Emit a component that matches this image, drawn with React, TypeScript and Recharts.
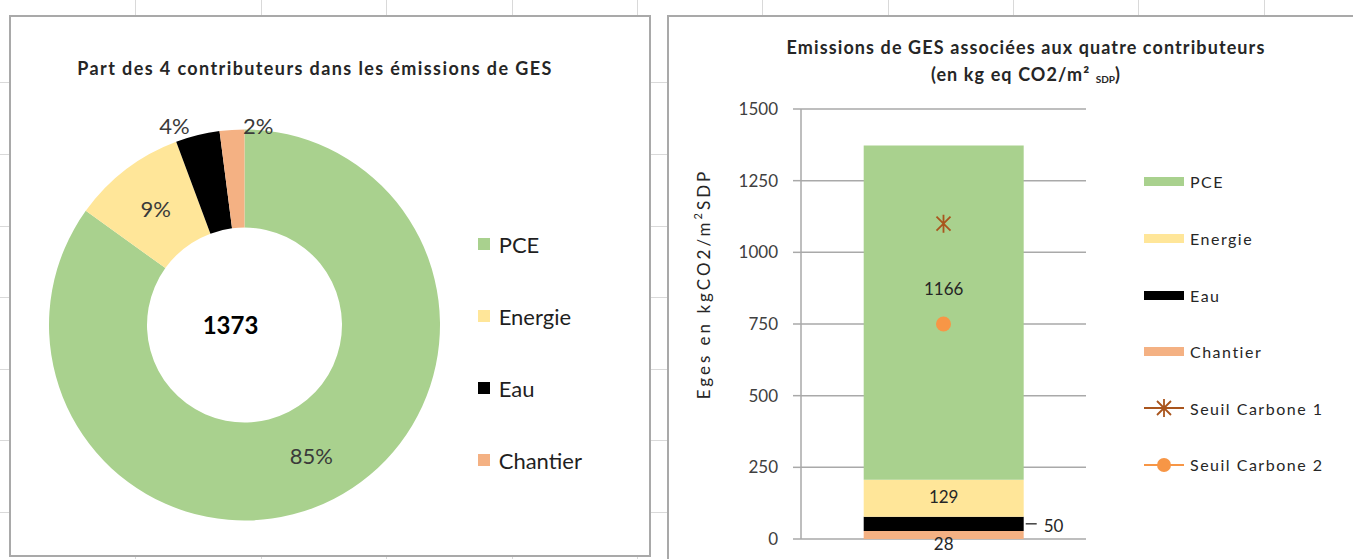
import React from 'react';
import {
  PieChart, Pie, Cell, ComposedChart, Bar, Line, XAxis, YAxis, CartesianGrid, LabelList,
} from 'recharts';

const categories = ['PCE', 'Energie', 'Eau', 'Chantier'];
const emissions = [1166, 129, 50, 28];
const categoryColors = ['#a9d18e', '#ffe699', '#000000', '#f4b183'];
const thresholdNames = ['Seuil Carbone 1', 'Seuil Carbone 2'];
const thresholdValues = [1100, 750];
const thresholdColors = ['#a9551d', '#f79646'];
const yTicks = [0, 250, 500, 750, 1000, 1250, 1500];

const FONT = 'Lato, "Open Sans", sans-serif';
const BORDER = '#a9a9a9';
const RAD = Math.PI / 180;
const PIE_CX = 233.5;
const PIE_CY = 308;

const total = emissions.reduce((a, b) => a + b, 0);
const pieData = categories.map((name, i) => ({ name, value: emissions[i] }));
const barRow: Record<string, string | number> = { name: 'Projet' };
categories.forEach((c, i) => { barRow[c] = emissions[i]; });
thresholdNames.forEach((n, i) => { barRow[n] = thresholdValues[i]; });
const barData = [barRow];
// stacked from bottom to top
const stackOrder = categories.map((c, i) => ({ c, color: categoryColors[i] })).reverse();

const renderPieLabel = (p: any) => {
  const { cx, cy, midAngle, innerRadius, outerRadius, percent, index } = p;
  const txt = `${Math.round(percent * 100)}%`;
  const style = { fontFamily: FONT, fontSize: 22, fill: '#3a3a3a' };
  if (percent >= 0.05) {
    const r = (innerRadius + outerRadius) / 2;
    return (
      <text x={cx + r * Math.cos(-midAngle * RAD)} y={cy + r * Math.sin(-midAngle * RAD)}
        textAnchor="middle" dominantBaseline="central" style={style}>{txt}</text>
    );
  }
  // small slices: labels just above the ring
  const last = index === pieData.length - 1;
  const x = cx + outerRadius * Math.cos(-midAngle * RAD) + (last ? 11 : -8);
  return (
    <text x={x} y={cy - outerRadius + 4} textAnchor={last ? 'start' : 'end'} style={style}>{txt}</text>
  );
};

const segmentLabel = (cat: string) => (p: any) => {
  const { x, y, width, height, value } = p;
  const cxm = x + width / 2;
  const cym = y + height / 2;
  const style = { fontFamily: FONT, fontSize: 17, fill: '#262626' };
  if (cat === 'Eau') {
    return (
      <g>
        <line x1={x + width + 2} x2={x + width + 13} y1={cym} y2={cym} stroke="#404040" strokeWidth={1.5} />
        <text x={x + width + 20} y={cym + 2} dominantBaseline="central" style={style}>{value}</text>
      </g>
    );
  }
  const dy = cat === 'PCE' ? -24 : cat === 'Chantier' ? 9 : -2;
  return <text x={cxm} y={cym + dy} textAnchor="middle" dominantBaseline="central" style={style}>{value}</text>;
};

const StarDot = (p: any) => {
  const { cx, cy } = p;
  if (cx == null || cy == null) return null;
  return (
    <path d={`M${cx - 7},${cy - 7}L${cx + 7},${cy + 7}M${cx + 7},${cy - 7}L${cx - 7},${cy + 7}M${cx},${cy - 9}L${cx},${cy + 9}`}
      stroke={thresholdColors[0]} strokeWidth={1.8} fill="none" />
  );
};

const CircleDot = (p: any) => {
  const { cx, cy } = p;
  if (cx == null || cy == null) return null;
  return <circle cx={cx} cy={cy} r={7.5} fill={thresholdColors[1]} />;
};

const SheetGrid = () => {
  const xs = [135, 261, 386, 512, 637, 762, 888, 1013, 1138, 1264];
  const ys = [82, 154, 226, 297, 369, 440, 512];
  return (
    <svg width={1353} height={559} style={{ position: 'absolute', left: 0, top: 0 }}>
      {xs.map((x) => <line key={`x${x}`} x1={x + 0.5} x2={x + 0.5} y1={0} y2={559} stroke="#d9d9d9" />)}
      {ys.map((y) => <line key={`y${y}`} x1={0} x2={1353} y1={y + 0.5} y2={y + 0.5} stroke="#d9d9d9" />)}
    </svg>
  );
};

const App: React.FC = () => {
  return (
    <div style={{ position: 'absolute', left: 0, top: 0, width: 1353, height: 559, overflow: 'hidden', background: '#fff', fontFamily: FONT }}>
      <SheetGrid />

      {/* donut panel */}
      <div style={{ position: 'absolute', left: 9, top: 15, width: 642, height: 542, border: `2px solid ${BORDER}`, boxSizing: 'border-box', background: '#fff' }}>
        <div style={{ position: 'absolute', left: 4, width: 600, top: 40, textAlign: 'center', fontSize: 18, fontWeight: 700, color: '#262626', lineHeight: '22px', letterSpacing: 1.4 }}>
          Part des 4 contributeurs dans les émissions de GES
        </div>
        <PieChart width={638} height={538} margin={{ top: 0, right: 0, bottom: 0, left: 0 }} style={{ position: 'absolute', left: 0, top: 0 }}>
          <Pie data={pieData} dataKey="value" nameKey="name" cx={PIE_CX} cy={PIE_CY} innerRadius={97.5} outerRadius={195.5}
            startAngle={90} endAngle={-270} stroke="none" label={renderPieLabel} labelLine={false} isAnimationActive={false}>
            {pieData.map((d, i) => <Cell key={d.name} fill={categoryColors[i]} />)}
          </Pie>
        </PieChart>
        <div style={{ position: 'absolute', left: PIE_CX - 14 - 60, width: 120, top: PIE_CY - 15, height: 30, lineHeight: '30px', textAlign: 'center', fontSize: 24, fontWeight: 700, color: '#000' }}>
          {total}
        </div>
        <div style={{ position: 'absolute', left: 466.7, top: 191 }}>
          {categories.map((c, i) => (
            <div key={c} style={{ height: 72, display: 'flex', alignItems: 'center' }}>
              <span style={{ width: 12, height: 12, background: categoryColors[i], marginRight: 9 }} />
              <span style={{ fontSize: 22, color: '#1f1f1f' }}>{c}</span>
            </div>
          ))}
        </div>
      </div>

      {/* stacked bar panel */}
      <div style={{ position: 'absolute', left: 667, top: 15, width: 700, height: 560, borderLeft: `2px solid ${BORDER}`, borderTop: `2px solid ${BORDER}`, boxSizing: 'border-box', background: '#fff' }}>
        <div style={{ position: 'absolute', left: 57, width: 600, top: 17, textAlign: 'center', fontSize: 18, fontWeight: 700, color: '#262626', lineHeight: '27px', letterSpacing: 1.1 }}>
          Emissions de GES associées aux quatre contributeurs
          <br />
          (en kg eq CO2/m² <span style={{ fontSize: 10, verticalAlign: '-2px', letterSpacing: 0 }}>SDP</span>)
        </div>
        <ComposedChart width={684} height={542} data={barData} barCategoryGap="22%"
          margin={{ top: 92, right: 267, bottom: 20, left: 72 }} style={{ position: 'absolute', left: 0, top: 0 }}>
          <CartesianGrid vertical={false} stroke={BORDER} strokeWidth={1.5} />
          <XAxis dataKey="name" hide />
          <YAxis domain={[0, 1500]} ticks={yTicks} width={60} tickSize={8} tickMargin={15}
            axisLine={{ stroke: BORDER, strokeWidth: 1.5 }} tickLine={{ stroke: BORDER, strokeWidth: 1.5 }}
            tick={{ fontFamily: FONT, fontSize: 17, fill: '#404040' }}
            label={{
              content: (p: any) => {
                const vb = p.viewBox || {};
                const x = vb.x - 38;
                const y = vb.y + vb.height / 2 - 40;
                return (
                  <text x={x} y={y} transform={`rotate(-90, ${x}, ${y})`} textAnchor="middle" dominantBaseline="central"
                    style={{ fontFamily: FONT, fontSize: 17, fill: '#262626', letterSpacing: 3 }}>
                    Eges en kgCO2/m<tspan dy={-6} fontSize={11}>2</tspan><tspan dy={6}>SDP</tspan>
                  </text>
                );
              },
            }} />
          <YAxis yAxisId="r" orientation="right" domain={[0, 1500]} width={0} tick={false} tickLine={false}
            axisLine={{ stroke: BORDER, strokeWidth: 1.5 }} />
          {stackOrder.map(({ c, color }) => (
            <Bar key={c} dataKey={c} stackId="a" fill={color} isAnimationActive={false}>
              <LabelList dataKey={c} content={segmentLabel(c)} />
            </Bar>
          ))}
          <Line dataKey={thresholdNames[0]} stroke={thresholdColors[0]} dot={<StarDot />} activeDot={false} isAnimationActive={false} />
          <Line dataKey={thresholdNames[1]} stroke={thresholdColors[1]} dot={<CircleDot />} activeDot={false} isAnimationActive={false} />
        </ComposedChart>
        <div style={{ position: 'absolute', left: 475, top: 136.7 }}>
          {categories.map((c, i) => (
            <div key={c} style={{ height: 56.6, display: 'flex', alignItems: 'center' }}>
              <span style={{ width: 40, height: 9, background: categoryColors[i], marginRight: 6 }} />
              <span style={{ fontSize: 16, color: '#262626', letterSpacing: 1.5 }}>{c}</span>
            </div>
          ))}
          {thresholdNames.map((n, i) => (
            <div key={n} style={{ height: 56.6, display: 'flex', alignItems: 'center' }}>
              <svg width={40} height={20} style={{ marginRight: 6 }}>
                <line x1={0} x2={40} y1={10} y2={10} stroke={thresholdColors[i]} strokeWidth={2} />
                {i === 0
                  ? <path d="M13,3L27,17M27,3L13,17M20,1L20,19" stroke={thresholdColors[0]} strokeWidth={1.8} fill="none" />
                  : <circle cx={20} cy={10} r={7} fill={thresholdColors[1]} />}
              </svg>
              <span style={{ fontSize: 16, color: '#262626', letterSpacing: 1.5 }}>{n}</span>
            </div>
          ))}
        </div>
      </div>
    </div>
  );
};

export default App;
